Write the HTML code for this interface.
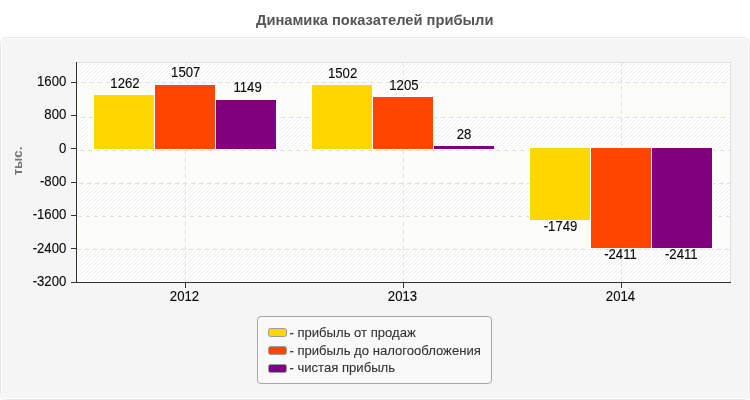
<!DOCTYPE html>
<html lang="ru">
<head>
<meta charset="utf-8">
<title>Динамика показателей прибыли</title>
<style>
html,body{margin:0;padding:0;background:#fff;}
body{width:750px;height:400px;overflow:hidden;}
svg{display:block;font-family:"Liberation Sans",Arial,sans-serif;}
text{fill:#0a0a0a;stroke:#0a0a0a;stroke-width:0.12px;}
.ce{shape-rendering:crispEdges;}
</style>
</head>
<body>
<svg width="750" height="400" viewBox="0 0 750 400">
<defs>
<pattern id="h" width="4" height="4" patternUnits="userSpaceOnUse" patternTransform="translate(3,0)">
<rect width="4" height="4" fill="#fff"/>
<path d="M-1,1 L1,-1 M-1,5 L5,-1 M3,5 L5,3" stroke="#eeeeee" stroke-width="0.9"/>
</pattern>
</defs>
<rect width="750" height="400" fill="#fff"/>
<!-- panel -->
<rect x="0.5" y="37.5" width="749" height="362" rx="6" ry="6" fill="#fff" stroke="#e6e6e6"/>
<rect x="1.5" y="38.5" width="747" height="360" rx="5" ry="5" fill="#f5f5f5" stroke="#fff"/>
<!-- title -->
<text transform="translate(374.7,25.1) scale(1,1)" text-anchor="middle" style="font-size:14.69px;font-weight:bold;fill:#555;stroke:#555;stroke-width:0px;">Динамика показателей прибыли</text>
<!-- plot -->
<rect x="77" y="62" width="654" height="220" fill="url(#h)"/>
<g fill="#fdfdf6" fill-opacity="0.55" class="ce">
<rect x="77" y="84" width="654" height="33"/>
<rect x="77" y="150" width="654" height="33"/>
<rect x="77" y="216" width="654" height="33"/>
</g>
<g class="ce" stroke="#e0e0e0" stroke-width="1" fill="none">
<path d="M77,62.5H731M730.5,62V282"/>
<g stroke-dasharray="4 4">
<path d="M82,82.5H730"/>
<path d="M81,117.5H730"/>
<path d="M80,150.5H730"/>
<path d="M79,183.5H730"/>
<path d="M78,216.5H730"/>
<path d="M77,249.5H730"/>
<path d="M185.5,62V282M403.5,62V282M621.5,62V282"/>
</g>
</g>
<!-- bars -->
<g class="ce">
<rect x="93" y="94" width="62" height="56" fill="#fff"/>
<rect x="154" y="84" width="62" height="66" fill="#fff"/>
<rect x="215" y="99" width="62" height="51" fill="#fff"/>
<rect x="311" y="84" width="62" height="66" fill="#fff"/>
<rect x="372" y="96" width="62" height="54" fill="#fff"/>
<rect x="433" y="145" width="62" height="5" fill="#fff"/>
<rect x="529" y="147" width="62" height="74" fill="#fff"/>
<rect x="590" y="147" width="62" height="102" fill="#fff"/>
<rect x="651" y="147" width="62" height="102" fill="#fff"/>
<rect x="94" y="95" width="60" height="54" fill="#ffd700"/>
<rect x="155" y="85" width="60" height="64" fill="#ff4500"/>
<rect x="216" y="100" width="60" height="49" fill="#800080"/>
<rect x="312" y="85" width="60" height="64" fill="#ffd700"/>
<rect x="373" y="97" width="60" height="52" fill="#ff4500"/>
<rect x="434" y="146" width="60" height="3" fill="#800080"/>
<rect x="530" y="148" width="60" height="72" fill="#ffd700"/>
<rect x="591" y="148" width="60" height="100" fill="#ff4500"/>
<rect x="652" y="148" width="60" height="100" fill="#800080"/>
</g>
<!-- axes -->
<g class="ce" stroke="#333" stroke-width="1" fill="none">
<path d="M76.5,62V283M71,282.5H731"/>
<path d="M71,82.5H76M71,115.5H76M71,148.5H76M71,182.5H76M71,215.5H76M71,248.5H76"/>
<path d="M185.5,283V288M403.5,283V288M621.5,283V288"/>
</g>
<!-- y labels -->
<text transform="translate(66.3,86) scale(0.94,1)" text-anchor="end" style="font-size:14.0px;">1600</text>
<text transform="translate(66.3,119.3) scale(0.94,1)" text-anchor="end" style="font-size:14.0px;">800</text>
<text transform="translate(66.3,152.7) scale(0.94,1)" text-anchor="end" style="font-size:14.0px;">0</text>
<text transform="translate(66.3,186) scale(0.94,1)" text-anchor="end" style="font-size:14.0px;">-800</text>
<text transform="translate(66.3,219.3) scale(0.94,1)" text-anchor="end" style="font-size:14.0px;">-1600</text>
<text transform="translate(66.3,252.7) scale(0.94,1)" text-anchor="end" style="font-size:14.0px;">-2400</text>
<text transform="translate(66.3,286) scale(0.94,1)" text-anchor="end" style="font-size:14.0px;">-3200</text>
<!-- x labels -->
<text transform="translate(184.5,301) scale(0.94,1)" text-anchor="middle" style="font-size:14.0px;">2012</text>
<text transform="translate(402.5,301) scale(0.94,1)" text-anchor="middle" style="font-size:14.0px;">2013</text>
<text transform="translate(620.5,301) scale(0.94,1)" text-anchor="middle" style="font-size:14.0px;">2014</text>
<!-- value labels -->
<text transform="translate(125,87.7) scale(0.94,1)" text-anchor="middle" style="font-size:14.0px;">1262</text>
<text transform="translate(185.7,77) scale(0.94,1)" text-anchor="middle" style="font-size:14.0px;">1507</text>
<text transform="translate(247.6,91.8) scale(0.94,1)" text-anchor="middle" style="font-size:14.0px;">1149</text>
<text transform="translate(342.6,77.7) scale(0.94,1)" text-anchor="middle" style="font-size:14.0px;">1502</text>
<text transform="translate(403.9,89.7) scale(0.94,1)" text-anchor="middle" style="font-size:14.0px;">1205</text>
<text transform="translate(464.1,138.8) scale(0.94,1)" text-anchor="middle" style="font-size:14.0px;">28</text>
<text transform="translate(560.5,231) scale(0.94,1)" text-anchor="middle" style="font-size:14.0px;">-1749</text>
<text transform="translate(620.5,258.7) scale(0.94,1)" text-anchor="middle" style="font-size:14.0px;">-2411</text>
<text transform="translate(681.3,258.7) scale(0.94,1)" text-anchor="middle" style="font-size:14.0px;">-2411</text>
<!-- y title -->
<text transform="translate(22.1,161) rotate(-90) scale(1,1)" text-anchor="middle" style="font-size:13.2px;font-weight:bold;fill:#777;stroke:#777;stroke-width:0px;">тыс.</text>
<!-- legend -->
<rect x="257.5" y="316.5" width="234" height="67" rx="3.5" ry="3.5" fill="#f9f9f9" stroke="#a8a8a8"/>
<g stroke="#9c9c9c" stroke-width="1">
<rect x="268.5" y="328.5" width="18" height="8" rx="2" fill="#ffd700"/>
<rect x="268.5" y="346.5" width="18" height="8" rx="2" fill="#ff4500"/>
<rect x="268.5" y="364.5" width="18" height="8" rx="2" fill="#800080"/>
</g>
<text transform="translate(289.4,337) scale(1,1)" text-anchor="start" style="font-size:13.1px;fill:#333;stroke:#333;stroke-width:0.1px;">- прибыль от продаж</text>
<text transform="translate(289.4,354.5) scale(1,1)" text-anchor="start" style="font-size:13.1px;fill:#333;stroke:#333;stroke-width:0.1px;">- прибыль до налогообложения</text>
<text transform="translate(289.4,372) scale(1,1)" text-anchor="start" style="font-size:13.1px;fill:#333;stroke:#333;stroke-width:0.1px;">- чистая прибыль</text>
</svg>
</body>
</html>
